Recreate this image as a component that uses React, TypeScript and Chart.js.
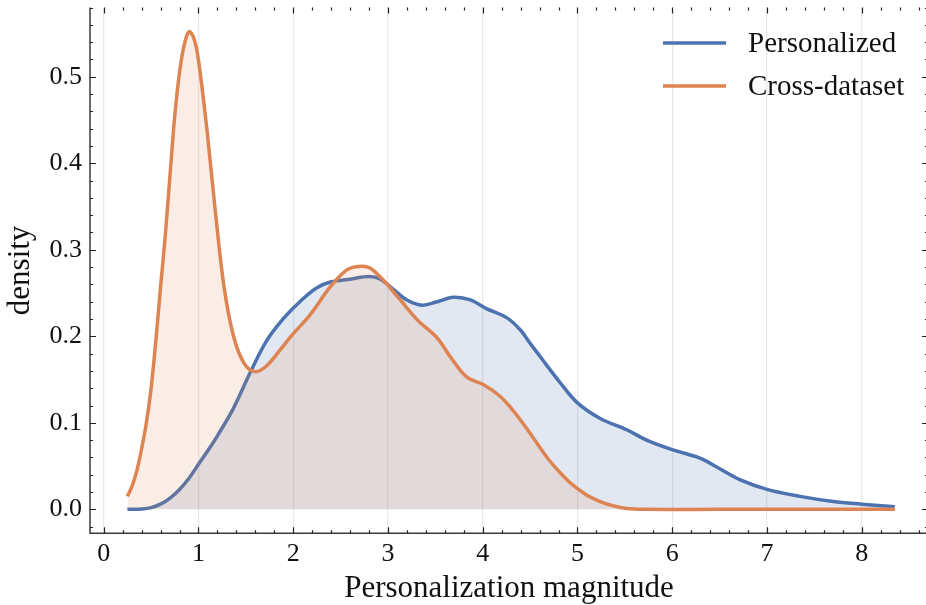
import React, { useEffect, useRef } from "react";
import { Chart, registerables } from "chart.js";

Chart.register(...registerables);

// ---- data ----
const personalizedX = [
  0.25, 0.4, 0.5, 0.6, 0.7, 0.8, 0.9, 1.0, 1.1, 1.2, 1.37, 1.55, 1.72, 1.9, 2.07, 2.25, 2.4,
  2.6, 2.8, 2.92, 3.06, 3.2, 3.36, 3.52, 3.69, 3.87, 4.04, 4.26, 4.4, 4.5, 4.61, 4.82, 5.0,
  5.24, 5.52, 5.73, 6.0, 6.3, 6.47, 6.72, 7.0, 7.35, 7.7, 8.0, 8.35,
];
const personalizedY = [
  0.0, 0.0005, 0.002, 0.006, 0.013, 0.023, 0.036, 0.052, 0.068, 0.085, 0.117, 0.159, 0.195,
  0.221, 0.24, 0.256, 0.263, 0.266, 0.269, 0.266, 0.254, 0.242, 0.236, 0.24, 0.245, 0.242,
  0.232, 0.221, 0.207, 0.192, 0.176, 0.146, 0.123, 0.105, 0.092, 0.08, 0.069, 0.059, 0.049,
  0.034, 0.023, 0.015, 0.009, 0.006, 0.003,
];
const crossX = [
  0.25, 0.3, 0.35, 0.4, 0.45, 0.5, 0.55, 0.6, 0.65, 0.7, 0.75, 0.8, 0.85, 0.9, 0.95, 1.0, 1.09,
  1.18, 1.27, 1.37, 1.48, 1.6, 1.72, 1.86, 2.0, 2.18, 2.39, 2.57, 2.71, 2.81, 2.95, 3.13, 3.31,
  3.52, 3.66, 3.83, 4.01, 4.18, 4.3, 4.4, 4.5, 4.6, 4.7, 4.82, 4.92, 5.0, 5.12, 5.24, 5.38,
  5.52, 5.7, 6.5, 8.35,
];
const crossY = [
  0.015, 0.027, 0.045, 0.07, 0.1, 0.14, 0.195, 0.257, 0.317, 0.387, 0.455, 0.505, 0.537, 0.552,
  0.545, 0.519, 0.438, 0.342, 0.257, 0.2, 0.169, 0.159, 0.166, 0.184, 0.203, 0.225, 0.257,
  0.277, 0.281, 0.279, 0.265, 0.242, 0.219, 0.198, 0.176, 0.153, 0.144, 0.131, 0.117, 0.103,
  0.088, 0.072, 0.057, 0.042, 0.031, 0.024, 0.015, 0.009, 0.004, 0.001, 0.0, 0.0, 0.0,
];
const seriesLabels = ["Personalized", "Cross-dataset"];
const xAxisTitle = "Personalization magnitude";
const yAxisTitle = "density";

const SERIF = "'Liberation Serif', 'Times New Roman', 'DejaVu Serif', serif";
const BLUE = "#4C72B0";
const ORANGE = "#DD8452";

const framePlugin = {
  id: "frame",
  afterDraw(chart: any) {
    const { ctx, chartArea: a, scales } = chart;
    const xs = scales.x;
    const ys = scales.y;
    ctx.save();
    // spines (left, bottom)
    ctx.strokeStyle = "#3a3a3a";
    ctx.lineWidth = 1.5;
    ctx.beginPath();
    ctx.moveTo(a.left, a.top);
    ctx.lineTo(a.left, a.bottom);
    ctx.lineTo(a.right, a.bottom);
    ctx.stroke();
    // inward ticks on all four sides
    ctx.lineWidth = 1.2;
    ctx.strokeStyle = "#222";
    ctx.beginPath();
    for (let i = -5; i <= 50; i++) {
      const v = i * 0.2;
      const px = Math.round(xs.getPixelForValue(v)) + 0.5;
      if (px < a.left + 1 || px > a.right) continue;
      const len = i % 5 === 0 ? 6 : 3;
      ctx.moveTo(px, a.bottom);
      ctx.lineTo(px, a.bottom - len);
      ctx.moveTo(px, a.top);
      ctx.lineTo(px, a.top + len);
    }
    for (let i = -5; i <= 35; i++) {
      const v = i * 0.02;
      const py = Math.round(ys.getPixelForValue(v)) + 0.5;
      if (py < a.top || py > a.bottom - 1) continue;
      const len = i % 5 === 0 ? 6 : 3;
      ctx.moveTo(a.left, py);
      ctx.lineTo(a.left + len, py);
      ctx.moveTo(a.right, py);
      ctx.lineTo(a.right - len, py);
    }
    ctx.stroke();

    // axis titles
    ctx.fillStyle = "#111";
    ctx.font = `31px ${SERIF}`;
    ctx.textAlign = "center";
    ctx.textBaseline = "middle";
    ctx.fillText(xAxisTitle, (a.left + a.right) / 2, 589);
    ctx.save();
    ctx.translate(21, (a.top + a.bottom) / 2);
    ctx.rotate(-Math.PI / 2);
    ctx.fillText(yAxisTitle, 0, 0);
    ctx.restore();

    // legend
    const colors = [BLUE, ORANGE];
    const rows = [43, 86];
    ctx.font = `29px ${SERIF}`;
    ctx.textAlign = "left";
    for (let i = 0; i < seriesLabels.length; i++) {
      ctx.strokeStyle = colors[i];
      ctx.lineWidth = 3.5;
      ctx.beginPath();
      ctx.moveTo(663, rows[i]);
      ctx.lineTo(726, rows[i]);
      ctx.stroke();
      ctx.fillStyle = "#111";
      ctx.fillText(seriesLabels[i], 748, rows[i] + 1);
    }
    ctx.restore();
  },
};

export default function App() {
  const ref = useRef<HTMLCanvasElement | null>(null);
  useEffect(() => {
    if (!ref.current) return;
    const toPts = (xs: number[], ys: number[]) => xs.map((x, i) => ({ x, y: ys[i] }));
    const chart = new Chart(ref.current, {
      type: "line",
      data: {
        datasets: [
          {
            label: seriesLabels[0],
            data: toPts(personalizedX, personalizedY),
            borderColor: BLUE,
            backgroundColor: "rgba(76,114,176,0.16)",
            borderWidth: 3.5,
            pointRadius: 0,
            fill: "origin",
            tension: 0.35,
            order: 1,
          },
          {
            label: seriesLabels[1],
            data: toPts(crossX, crossY),
            borderColor: ORANGE,
            backgroundColor: "rgba(221,132,82,0.15)",
            borderWidth: 3.5,
            pointRadius: 0,
            fill: "origin",
            tension: 0.35,
            order: 0,
          },
        ],
      },
      options: {
        animation: false,
        responsive: false,
        layout: { padding: { left: 0, right: 12, top: 7.5, bottom: 0 } },
        plugins: { legend: { display: false }, tooltip: { enabled: false } },
        scales: {
          x: {
            type: "linear",
            min: -0.145,
            max: 8.7,
            offset: false,
            border: { display: false },
            grid: { display: true, color: "#e9e9e9", lineWidth: 1.3, drawTicks: false },
            ticks: {
              stepSize: 1,
              includeBounds: false,
              padding: 5,
              color: "#111",
              font: { family: SERIF, size: 26 },
              maxRotation: 0,
              autoSkip: false,
              callback: (v: any) => String(Math.round(Number(v))),
            },
            afterFit: (s: any) => {
              s.height = 71.7;
              s.paddingLeft = 0;
              s.paddingRight = 0;
            },
          },
          y: {
            type: "linear",
            min: -0.0277,
            max: 0.58,
            border: { display: false },
            grid: { display: false, drawTicks: false },
            ticks: {
              stepSize: 0.1,
              includeBounds: false,
              padding: 8,
              color: "#111",
              font: { family: SERIF, size: 26 },
              callback: (v: any) => Number(v).toFixed(1),
            },
            afterFit: (s: any) => {
              s.width = 90;
              s.paddingTop = 0;
              s.paddingBottom = 0;
            },
          },
        },
      },
      plugins: [framePlugin],
    } as any);
    return () => chart.destroy();
  }, []);
  return (
    <div
      style={{
        position: "fixed",
        left: 0,
        top: 0,
        width: 926,
        height: 605,
        overflow: "hidden",
        background: "#fff",
      }}
    >
      <canvas ref={ref} width={940} height={605} style={{ display: "block" }} />
    </div>
  );
}
